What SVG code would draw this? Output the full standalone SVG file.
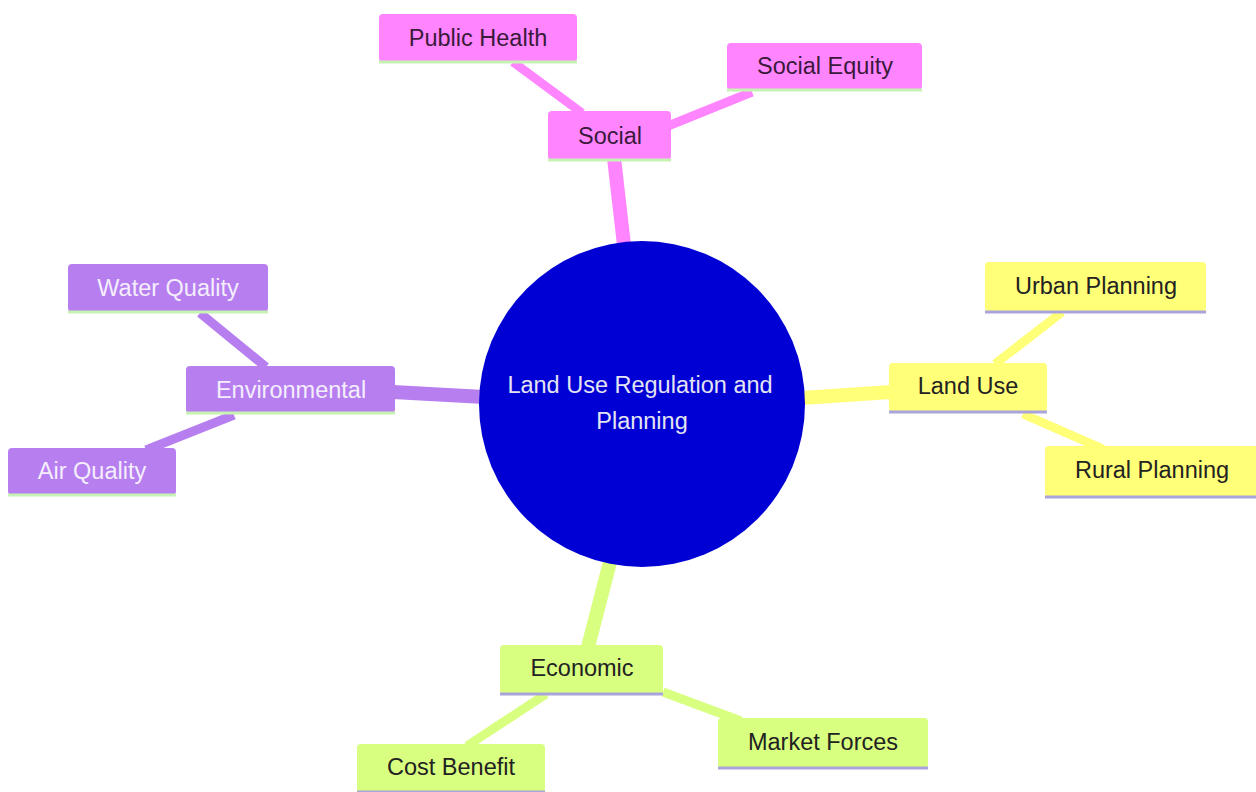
<svg xmlns="http://www.w3.org/2000/svg" width="1256" height="792" viewBox="0 0 1256 792">
<style>
  text { font-family: "Liberation Sans", Arial, sans-serif; font-size: 23.5px; text-anchor: middle; dominant-baseline: central; }
  .pink rect.box { fill: #ff85ff; }
  .purple rect.box { fill: #b77ef0; }
  .yellow rect.box { fill: #ffff78; }
  .green rect.box { fill: #d9ff80; }
  .pink text { fill: #3a1a3a; }
  .purple text { fill: #f4eefc; }
  .yellow text, .green text { fill: #222; }
  .pink line.ul, .purple line.ul { stroke: #c6f2b4; stroke-width: 3; }
  .yellow line.ul, .green line.ul { stroke: #aaa4dc; stroke-width: 3; }
  .edges line { stroke-linecap: butt; }
  .e-pink { stroke: #ff85ff; }
  .e-purple { stroke: #b77ef0; }
  .e-yellow { stroke: #ffff78; }
  .e-green { stroke: #d9ff80; }
  .main { stroke-width: 14; }
  .sub { stroke-width: 9; }
</style>
<rect width="1256" height="792" fill="#ffffff"/>
<g id="connectors" class="edges">
  <line class="e-pink main" x1="624" y1="245" x2="614" y2="158"/>
  <line class="e-pink sub" x1="513" y1="62" x2="582" y2="113"/>
  <line class="e-pink sub" x1="752" y1="92" x2="668" y2="126"/>
  <line class="e-purple main" x1="484" y1="397" x2="393" y2="392"/>
  <line class="e-purple sub" x1="200" y1="313" x2="266" y2="367"/>
  <line class="e-purple sub" x1="146" y1="450" x2="234" y2="415"/>
  <line class="e-yellow main" x1="802" y1="398" x2="891" y2="392"/>
  <line class="e-yellow sub" x1="1062" y1="312" x2="995" y2="364"/>
  <line class="e-yellow sub" x1="1023" y1="414" x2="1103" y2="449"/>
  <line class="e-green main" x1="610" y1="562" x2="588" y2="647"/>
  <line class="e-green sub" x1="467" y1="746" x2="546" y2="694"/>
  <line class="e-green sub" x1="663" y1="692" x2="741" y2="721"/>
</g>
<g id="root">
  <circle cx="642" cy="404" r="163" fill="#0000d4"/>
  <text x="640" y="385" fill="#e4e4f2">Land Use Regulation and</text>
  <text x="642" y="421" fill="#e4e4f2">Planning</text>
</g>
<g id="social" class="pink">
  <rect class="box" x="548" y="111" width="123" height="49" rx="4"/>
  <line class="ul" x1="548" y1="160" x2="671" y2="160"/>
  <text x="610" y="136">Social</text>
</g>
<g id="public-health" class="pink">
  <rect class="box" x="379" y="14" width="198" height="48" rx="4"/>
  <line class="ul" x1="379" y1="62" x2="577" y2="62"/>
  <text x="478" y="38">Public Health</text>
</g>
<g id="social-equity" class="pink">
  <rect class="box" x="727" y="43" width="195" height="47" rx="4"/>
  <line class="ul" x1="727" y1="90" x2="922" y2="90"/>
  <text x="825" y="66">Social Equity</text>
</g>
<g id="environmental" class="purple">
  <rect class="box" x="186" y="366" width="209" height="47" rx="4"/>
  <line class="ul" x1="186" y1="413" x2="395" y2="413"/>
  <text x="291" y="390">Environmental</text>
</g>
<g id="water-quality" class="purple">
  <rect class="box" x="68" y="264" width="200" height="48" rx="4"/>
  <line class="ul" x1="68" y1="312" x2="268" y2="312"/>
  <text x="168" y="288">Water Quality</text>
</g>
<g id="air-quality" class="purple">
  <rect class="box" x="8" y="448" width="168" height="47" rx="4"/>
  <line class="ul" x1="8" y1="495" x2="176" y2="495"/>
  <text x="92" y="471">Air Quality</text>
</g>
<g id="land-use" class="yellow">
  <rect class="box" x="889" y="363" width="158" height="49" rx="4"/>
  <line class="ul" x1="889" y1="412" x2="1047" y2="412"/>
  <text x="968" y="386">Land Use</text>
</g>
<g id="urban-planning" class="yellow">
  <rect class="box" x="985" y="262" width="221" height="50" rx="4"/>
  <line class="ul" x1="985" y1="312" x2="1206" y2="312"/>
  <text x="1096" y="286">Urban Planning</text>
</g>
<g id="rural-planning" class="yellow">
  <rect class="box" x="1045" y="446" width="215" height="51" rx="4"/>
  <line class="ul" x1="1045" y1="497" x2="1256" y2="497"/>
  <text x="1152" y="470">Rural Planning</text>
</g>
<g id="economic" class="green">
  <rect class="box" x="500" y="645" width="163" height="49" rx="4"/>
  <line class="ul" x1="500" y1="694" x2="663" y2="694"/>
  <text x="582" y="668">Economic</text>
</g>
<g id="cost-benefit" class="green">
  <rect class="box" x="357" y="744" width="188" height="50" rx="4"/>
  <line class="ul" x1="357" y1="792" x2="545" y2="792"/>
  <text x="451" y="767">Cost Benefit</text>
</g>
<g id="market-forces" class="green">
  <rect class="box" x="718" y="718" width="210" height="50" rx="4"/>
  <line class="ul" x1="718" y1="768" x2="928" y2="768"/>
  <text x="823" y="742">Market Forces</text>
</g>
</svg>
